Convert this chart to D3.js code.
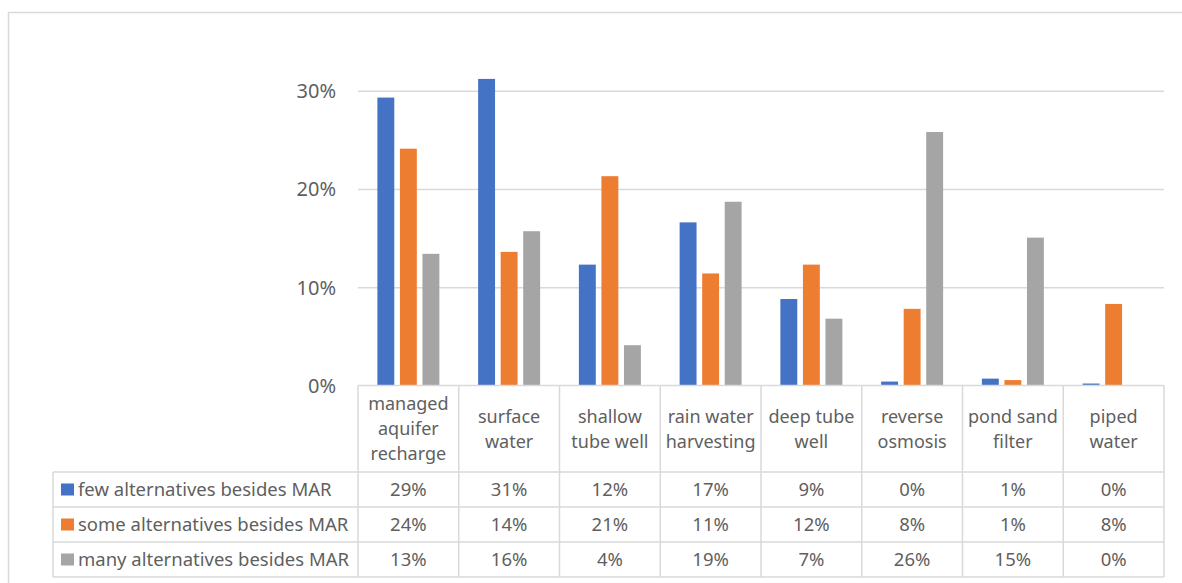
<!DOCTYPE html>
<html>
<head>
<meta charset="utf-8">
<script src="https://cdn.jsdelivr.net/npm/d3@7"></script>
<style>
  body { margin: 0; background: #fff; }
  text { font-family: "Noto Sans", sans-serif; fill: #5f5f5f; }
</style>
</head>
<body>
<script>
// categories (label lines as shown in the table header)
const categories = [
  ["managed", "aquifer", "recharge"],
  ["surface", "water"],
  ["shallow", "tube well"],
  ["rain water", "harvesting"],
  ["deep tube", "well"],
  ["reverse", "osmosis"],
  ["pond sand", "filter"],
  ["piped", "water"]
];
const seriesNames = [
  "few alternatives besides MAR",
  "some alternatives besides MAR",
  "many alternatives besides MAR"
];
const colors = ["#4472C4", "#ED7D31", "#A5A5A5"];

// values (shares)
const few  = [0.293, 0.312, 0.123, 0.166, 0.088, 0.004, 0.007, 0.002];
const some = [0.241, 0.136, 0.213, 0.114, 0.123, 0.078, 0.0055, 0.083];
const many = [0.134, 0.157, 0.041, 0.187, 0.068, 0.258, 0.1505, 0.0];
const seriesValues = [few, some, many];

const yTicks = [0, 0.1, 0.2, 0.3];

const W = 1182, H = 583;
const plotLeft = 358, plotRight = 1164;
const plotBottom = 385.5, y30 = 90.7;
const legendLeft = 53;
const headerBottom = 472, rowH = 35;

const svg = d3.select("body")
  .append("svg")
  .attr("width", W)
  .attr("height", H);

// outer chart frame
svg.append("rect")
  .attr("x", 8.5).attr("y", 12.5)
  .attr("width", 1200).attr("height", 620)
  .attr("fill", "none")
  .attr("stroke", "#d9d9d9")
  .attr("stroke-width", 1.5);

const catIdx = d3.range(categories.length);

// X scales
const x0 = d3.scaleBand()
  .domain(catIdx)
  .range([plotLeft, plotRight])
  .padding(0);

const x1 = d3.scaleBand()
  .domain(d3.range(seriesNames.length))
  .range([0, x0.bandwidth()])
  .paddingInner(0.25)
  .paddingOuter(0.86);

// Y scale
const y = d3.scaleLinear()
  .domain([0, 0.3])
  .range([plotBottom, y30]);

// gridlines
svg.append("g")
  .attr("transform", `translate(${plotLeft}, 0)`)
  .call(d3.axisLeft(y)
    .tickValues(yTicks.filter(d => d > 0))
    .tickSize(-(plotRight - plotLeft))
    .tickFormat(""))
  .call(g => g.select(".domain").remove())
  .call(g => g.selectAll("line").attr("stroke", "#d9d9d9").attr("stroke-width", 1.5));

// y tick labels
svg.append("g")
  .attr("transform", `translate(${plotLeft - 22}, 0)`)
  .call(d3.axisLeft(y).tickValues(yTicks).tickSize(0).tickFormat(d3.format(".0%")))
  .call(g => g.select(".domain").remove())
  .call(g => g.selectAll("text")
    .attr("x", 0)
    .attr("dy", "0.35em")
    .style("font-size", "20px")
    .attr("fill", "#5f5f5f")
    .style("font-family", "'Noto Sans', sans-serif"));

// Bars
const groups = svg.selectAll(".cat")
  .data(catIdx)
  .join("g")
  .attr("class", "cat")
  .attr("transform", i => `translate(${x0(i)}, 0)`);

groups.selectAll("rect")
  .data(i => seriesValues.map((s, k) => ({k: k, v: s[i]})))
  .join("rect")
  .attr("x", d => x1(d.k))
  .attr("y", d => y(d.v))
  .attr("width", x1.bandwidth())
  .attr("height", d => y(0) - y(d.v))
  .attr("fill", d => colors[d.k]);

// data table
const table = svg.append("g");
const lineColor = "#d9d9d9";
const tableBottom = headerBottom + rowH * seriesNames.length;

// horizontal lines
table.append("line")
  .attr("x1", plotLeft).attr("x2", plotRight)
  .attr("y1", plotBottom).attr("y2", plotBottom);
d3.range(seriesNames.length + 1).forEach(r => {
  table.append("line")
    .attr("x1", legendLeft).attr("x2", plotRight)
    .attr("y1", headerBottom + r * rowH).attr("y2", headerBottom + r * rowH);
});
// vertical lines
catIdx.concat([categories.length]).forEach(i => {
  const xx = i < categories.length ? x0(i) : plotRight;
  table.append("line")
    .attr("x1", xx).attr("x2", xx)
    .attr("y1", plotBottom).attr("y2", tableBottom);
});
table.append("line")
  .attr("x1", legendLeft).attr("x2", legendLeft)
  .attr("y1", headerBottom).attr("y2", tableBottom);
table.selectAll("line")
  .attr("stroke", lineColor)
  .attr("stroke-width", 1.5);

// header labels
const headerMid = (plotBottom + headerBottom) / 2;
const lh = 25;
table.selectAll(".hdr")
  .data(catIdx)
  .join("text")
  .attr("class", "hdr")
  .attr("text-anchor", "middle")
  .style("font-size", "18px")
  .each(function(i) {
    const lines = categories[i];
    const t = d3.select(this);
    lines.forEach((ln, j) => {
      t.append("tspan")
        .attr("x", x0(i) + x0.bandwidth() / 2)
        .attr("y", headerMid + (j - (lines.length - 1) / 2) * lh)
        .attr("dy", "0.35em")
        .text(ln);
    });
  });

// legend rows
const fmt = d3.format(".0%");
seriesNames.forEach((name, k) => {
  const cy = headerBottom + k * rowH + rowH / 2;
  table.append("rect")
    .attr("x", 61).attr("y", cy - 6)
    .attr("width", 13).attr("height", 12)
    .attr("fill", colors[k]);
  table.append("text")
    .attr("x", 78).attr("y", cy)
    .attr("dy", "0.35em")
    .style("font-size", "18.5px")
    .text(name);
  table.selectAll(".v" + k)
    .data(catIdx)
    .join("text")
    .attr("class", "v" + k)
    .attr("x", i => x0(i) + x0.bandwidth() / 2)
    .attr("y", cy)
    .attr("dy", "0.35em")
    .attr("text-anchor", "middle")
    .style("font-size", "18.5px")
    .text(i => fmt(seriesValues[k][i]));
});
</script>
</body>
</html>
